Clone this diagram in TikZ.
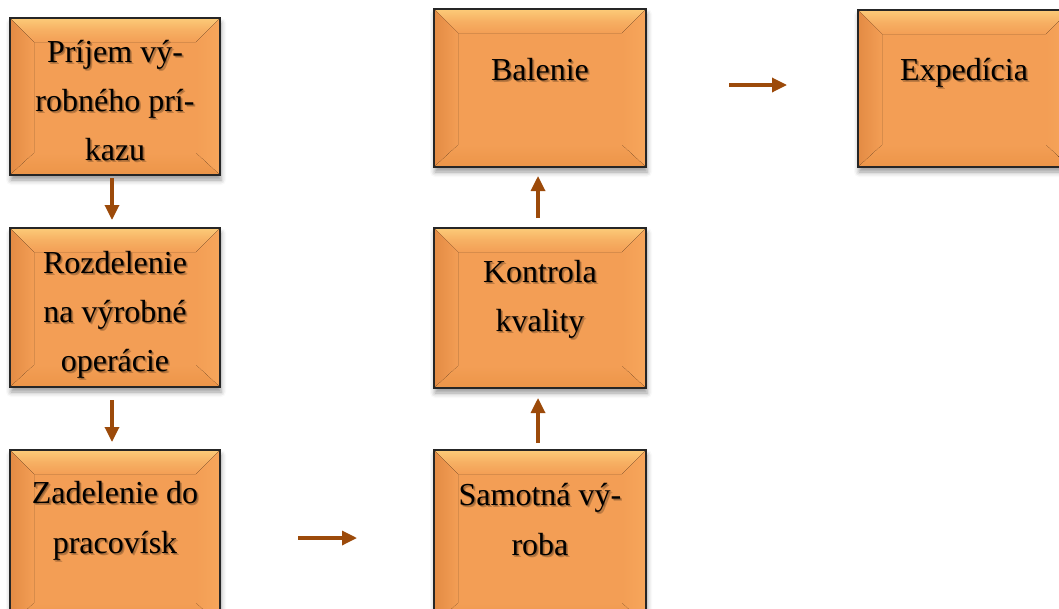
\documentclass[tikz,border=0pt]{standalone}
\usepackage{fontspec}
\setmainfont{Liberation Serif}
\usetikzlibrary{arrows.meta,calc,shadows.blur}

\definecolor{base}{HTML}{F39E55}
\definecolor{bevtop}{HTML}{FCCB78}
\definecolor{bevleft}{HTML}{E38B44}
\definecolor{bevright}{HTML}{F7A65B}
\definecolor{bevbottom}{HTML}{EC9548}
\definecolor{arrowbrown}{HTML}{9C4A0A}

\tikzset{
  boxbase/.style={rectangle, inner sep=0pt, outer sep=0pt, fill=base,
    blur shadow={shadow xshift=1pt, shadow yshift=-5pt, shadow blur radius=5pt, shadow opacity=40}},
  boxline/.style={draw=black!85, line width=2.2pt},
  flow/.style={draw=arrowbrown, line width=3.3pt, -{Triangle[width=14pt,length=15pt]}},
  txt/.style={font=\fontsize{32}{49}\selectfont, anchor=base, inner sep=0pt},
  txtshade/.style={txt, text=black, opacity=0.22},
}

% bevelled box: name, left, top, right, bottom
\newcommand\bevelbox[5]{%
  \node[boxbase, minimum width={(#4-#2)*1pt}, minimum height={(#5-#3)*1pt}]
    (#1) at ({(#2+#4)/2},{(#3+#5)/2}) {};
  \fill[top color=bevtop, bottom color=base, middle color=base!60!bevtop]
    (#1.north west) -- (#1.north east) -- ($(#1.north east)+(-24,24)$)
    -- ($(#1.north west)+(24,24)$) -- cycle;
  \fill[left color=bevleft, right color=base]
    (#1.north west) -- ($(#1.north west)+(24,24)$) -- ($(#1.south west)+(24,-22)$)
    -- (#1.south west) -- cycle;
  \fill[left color=base, right color=bevright]
    (#1.north east) -- ($(#1.north east)+(-24,24)$) -- ($(#1.south east)+(-24,-22)$)
    -- (#1.south east) -- cycle;
  \fill[top color=base, bottom color=bevbottom]
    (#1.south west) -- ($(#1.south west)+(24,-22)$) -- ($(#1.south east)+(-24,-22)$)
    -- (#1.south east) -- cycle;
  \draw[boxline] (#1.north west) rectangle (#1.south east);
}

% one line of box text with its soft shadow: name, position, text
\newcommand\boxline[3]{%
  \node[txtshade] (#1-s) at ($#2+(2,2)$) {#3};
  \node[txtshade] (#1-t) at ($#2+(1,1.2)$) {#3};
  \node[txt] (#1) at #2 {#3};
}

\begin{document}
\begin{tikzpicture}[x=1pt,y=-1pt]
\useasboundingbox (0,0) rectangle (1059,608);

% boxes
\bevelbox{A}{10}{18}{220}{175}
\bevelbox{B}{10}{228}{220}{387}
\bevelbox{C}{10}{450}{220}{625}
\bevelbox{D}{434}{450}{646}{625}
\bevelbox{E}{434}{228}{646}{388}
\bevelbox{F}{434}{9}{646}{167}
\bevelbox{G}{858}{10}{1070}{167}

% texts
\boxline{A1}{($(A.north)+(0,44)$)}{Príjem vý-}
\boxline{A2}{($(A.north)+(0,93)$)}{robného prí-}
\boxline{A3}{($(A.north)+(0,142)$)}{kazu}

\boxline{B1}{($(B.north)+(0,45)$)}{Rozdelenie}
\boxline{B2}{($(B.north)+(0,94)$)}{na výrobné}
\boxline{B3}{($(B.north)+(0,143)$)}{operácie}

\boxline{C1}{($(C.north)+(0,53)$)}{Zadelenie do}
\boxline{C2}{($(C.north)+(0,103)$)}{pracovísk}

\boxline{D1}{($(D.north)+(0,55)$)}{Samotná vý-}
\boxline{D2}{($(D.north)+(0,105)$)}{roba}

\boxline{E1}{($(E.north)+(0,54)$)}{Kontrola}
\boxline{E2}{($(E.north)+(0,103)$)}{kvality}

\boxline{F1}{($(F.north)+(0,71)$)}{Balenie}
\boxline{G1}{($(G.north)+(0,70)$)}{Expedícia}

% connectors
\draw[flow] ($(A.south)+(-3,3)$) -- ($(B.north)+(-3,-8)$);
\draw[flow] ($(B.south)+(-3,13)$) -- ($(C.north)+(-3,-8)$);
\draw[flow] ($(C.north east)+(78,88)$) -- ($(D.north west)+(-77,88)$);
\draw[flow] ($(D.north)+(-2,-7)$) -- ($(E.south)+(-2,10)$);
\draw[flow] ($(E.north)+(-2,-10)$) -- ($(F.south)+(-2,9)$);
\draw[flow] ($(F.north east)+(83,76)$) -- ($(G.north west)+(-71,75)$);
\end{tikzpicture}
\end{document}
